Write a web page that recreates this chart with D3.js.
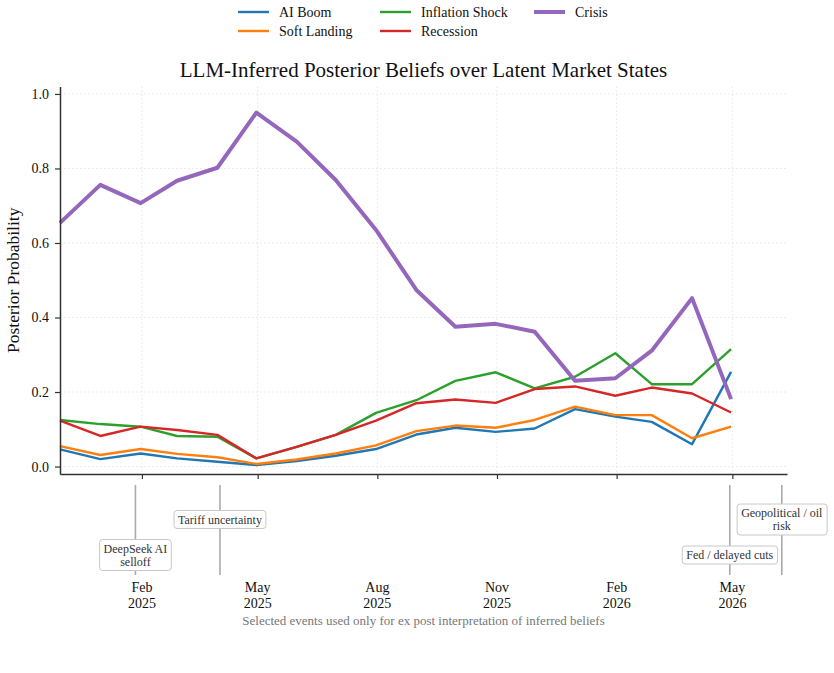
<!DOCTYPE html>
<html>
<head>
<meta charset="utf-8">
<script src="https://cdn.jsdelivr.net/npm/d3@7"></script>
<style>
  body { margin: 0; background: #fff; }
  svg { font-family: "Liberation Serif", "DejaVu Serif", serif; }
</style>
</head>
<body>
<script>
// 画布尺寸
var w = 834;
var h = 673;

// 月末日期
var dates = ["2024-11-30", "2024-12-31", "2025-01-31", "2025-02-28", "2025-03-31", "2025-04-30",
    "2025-05-31", "2025-06-30", "2025-07-31", "2025-08-31", "2025-09-30", "2025-10-31",
    "2025-11-30", "2025-12-31", "2026-01-31", "2026-02-28", "2026-03-31", "2026-04-30"];

// 各状态的后验概率
var aiBoom = [0.046, 0.020, 0.035, 0.022, 0.013, 0.004, 0.015, 0.029, 0.047, 0.086, 0.104, 0.093, 0.102, 0.154, 0.134, 0.120, 0.060, 0.254];
var softLanding = [0.055, 0.031, 0.047, 0.034, 0.025, 0.007, 0.019, 0.035, 0.057, 0.095, 0.110, 0.104, 0.125, 0.161, 0.138, 0.138, 0.076, 0.107];
var inflationShock = [0.125, 0.114, 0.107, 0.082, 0.080, 0.022, 0.053, 0.085, 0.144, 0.178, 0.230, 0.253, 0.210, 0.241, 0.304, 0.221, 0.221, 0.315];
var recession = [0.123, 0.082, 0.107, 0.098, 0.085, 0.022, 0.053, 0.085, 0.123, 0.170, 0.180, 0.171, 0.208, 0.215, 0.190, 0.212, 0.196, 0.145];
var crisis = [0.654, 0.756, 0.707, 0.767, 0.802, 0.950, 0.872, 0.769, 0.635, 0.474, 0.375, 0.383, 0.362, 0.230, 0.237, 0.311, 0.452, 0.181];

var seriesNames = ["AI Boom", "Soft Landing", "Inflation Shock", "Recession", "Crisis"];
var seriesColors = ["#1f77b4", "#ff7f0e", "#2ca02c", "#d62728", "#9467bd"];
var seriesValues = [aiBoom, softLanding, inflationShock, recession, crisis];

// 事件
var eventDates = ["2025-01-27", "2025-04-02", "2026-04-29", "2026-06-08"];
var eventLabels = [["DeepSeek AI", "selloff"], ["Tariff uncertainty"], ["Fed / delayed cuts"], ["Geopolitical / oil", "risk"]];
var eventLevels = [0.25, 0.605, 0.25, 0.605];

var yTicks = [0, 0.2, 0.4, 0.6, 0.8, 1.0];
var xTickDates = ["2025-02-01", "2025-05-01", "2025-08-01", "2025-11-01", "2026-02-01", "2026-05-01"];

var parse = d3.timeParse("%Y-%m-%d");

// 布局
var mLeft = 60, mRight = 787;
var mTop = 86.5, mBottom = 474;
var evTop = 480, evBottom = 580;

var x = d3.scaleTime()
    .domain([parse("2024-11-30"), parse("2026-06-12")])
    .range([mLeft, mRight]);

var y = d3.scaleLinear()
    .domain([-0.02, 1.02])
    .range([mBottom, mTop]);

var yEv = d3.scaleLinear()
    .domain([0, 1])
    .range([evBottom, evTop]);

var svg = d3.select("body").append("svg")
    .attr("width", w)
    .attr("height", h);

// ———— 网格 ———— //
svg.append("g")
    .selectAll("line")
    .data(yTicks)
    .enter()
    .append("line")
    .attr("x1", mLeft).attr("x2", mRight)
    .attr("y1", function (d) { return y(d); })
    .attr("y2", function (d) { return y(d); })
    .attr("stroke", "#e0e0e0")
    .attr("stroke-width", 0.8)
    .attr("stroke-dasharray", "1.5,2.5");

svg.append("g")
    .selectAll("line")
    .data(xTickDates)
    .enter()
    .append("line")
    .attr("x1", function (d) { return x(parse(d)); })
    .attr("x2", function (d) { return x(parse(d)); })
    .attr("y1", mTop).attr("y2", mBottom)
    .attr("stroke", "#e0e0e0")
    .attr("stroke-width", 0.8)
    .attr("stroke-dasharray", "1.5,2.5");

// ———— 折线 ———— //
var line = d3.line()
    .x(function (d, i) { return x(parse(dates[i])); })
    .y(function (d) { return y(d); });

svg.append("g")
    .selectAll("path")
    .data(seriesValues)
    .enter()
    .append("path")
    .attr("d", line)
    .attr("fill", "none")
    .attr("stroke", function (d, i) { return seriesColors[i]; })
    .attr("stroke-width", function (d, i) { return i == 4 ? 4 : 2.4; })
    .attr("stroke-linejoin", "round");

// ———— 坐标轴 ———— //
var yAxis = svg.append("g")
    .attr("transform", "translate(" + mLeft + ",0)")
    .call(d3.axisLeft(y).tickValues(yTicks).tickFormat(d3.format(".1f")).tickSize(5).tickSizeOuter(0).tickPadding(6));
yAxis.select(".domain").attr("stroke", "#333").attr("stroke-width", 1.5);
yAxis.selectAll(".tick line").attr("stroke", "#333").attr("stroke-width", 1.2);
yAxis.selectAll(".tick text").attr("font-size", 14).attr("fill", "#111")
    .attr("font-family", "Liberation Serif");

var xAxis = svg.append("g")
    .attr("transform", "translate(0," + mBottom + ")")
    .call(d3.axisBottom(x).tickValues(xTickDates.map(parse)).tickFormat("").tickSize(5).tickSizeOuter(0));
xAxis.select(".domain").attr("stroke", "#333").attr("stroke-width", 1.5);
xAxis.selectAll(".tick line").attr("stroke", "#333").attr("stroke-width", 1.2);

// 横轴标签 (在事件面板下方)
var fmtMon = d3.timeFormat("%b");
var fmtYear = d3.timeFormat("%Y");
var xl = svg.append("g")
    .selectAll("text")
    .data(xTickDates)
    .enter()
    .append("text")
    .attr("x", function (d) { return x(parse(d)); })
    .attr("y", 592)
    .attr("text-anchor", "middle")
    .attr("font-size", 14)
    .attr("fill", "#111");
xl.append("tspan").attr("x", function (d) { return x(parse(d)); }).text(function (d) { return fmtMon(parse(d)); });
xl.append("tspan").attr("x", function (d) { return x(parse(d)); }).attr("dy", 15.5).text(function (d) { return fmtYear(parse(d)); });

// ———— 事件面板 ———— //
var ev = svg.append("g");
ev.selectAll("line")
    .data(eventDates)
    .enter()
    .append("line")
    .attr("x1", function (d) { return x(parse(d)); })
    .attr("x2", function (d) { return x(parse(d)); })
    .attr("y1", yEv(0.95)).attr("y2", yEv(0.05))
    .attr("stroke", "#aaa")
    .attr("stroke-width", 1.6);

eventDates.forEach(function (d, i) {
    var cx = x(parse(d));
    var cy = yEv(eventLevels[i]);
    var g = ev.append("g");
    var lines = eventLabels[i];
    var lh = 13;
    var t = g.append("text")
        .attr("text-anchor", "middle")
        .attr("font-size", 12)
        .attr("fill", "#333");
    lines.forEach(function (s, j) {
        t.append("tspan")
            .attr("x", cx)
            .attr("y", cy + (j - (lines.length - 1) / 2) * lh + 4)
            .text(s);
    });
    var bb = t.node().getBBox();
    g.insert("rect", "text")
        .attr("x", bb.x - 4)
        .attr("y", bb.y - 2)
        .attr("width", bb.width + 8)
        .attr("height", bb.height + 4)
        .attr("rx", 3)
        .attr("fill", "#fff")
        .attr("stroke", "#c8c8c8")
        .attr("stroke-width", 1);
});

// 事件说明
svg.append("text")
    .attr("x", (mLeft + mRight) / 2)
    .attr("y", 625)
    .attr("text-anchor", "middle")
    .attr("font-size", 13)
    .attr("fill", "#777")
    .text("Selected events used only for ex post interpretation of inferred beliefs");

// 标题
svg.append("text")
    .attr("x", (mLeft + mRight) / 2)
    .attr("y", 77)
    .attr("text-anchor", "middle")
    .attr("font-size", 21)
    .attr("fill", "#111")
    .text("LLM-Inferred Posterior Beliefs over Latent Market States");

// 纵轴标题
svg.append("text")
    .attr("transform", "translate(19," + ((mTop + mBottom) / 2) + ") rotate(-90)")
    .attr("text-anchor", "middle")
    .attr("font-size", 17.5)
    .attr("fill", "#111")
    .text("Posterior Probability");

// ———— 图例 ———— //
var legX = [238, 380, 534];
var legY = [12, 31];
var legend = svg.append("g")
    .selectAll("g")
    .data(seriesNames)
    .enter()
    .append("g")
    .attr("transform", function (d, i) {
        return "translate(" + legX[Math.floor(i / 2)] + "," + legY[i % 2] + ")";
    });
legend.append("line")
    .attr("x1", 0).attr("x2", 31)
    .attr("stroke", function (d, i) { return seriesColors[i]; })
    .attr("stroke-width", function (d, i) { return i == 4 ? 4 : 2.4; });
legend.append("text")
    .attr("x", 41)
    .attr("y", 4.5)
    .attr("font-size", 14)
    .attr("fill", "#111")
    .text(function (d) { return d; });
</script>
</body>
</html>
